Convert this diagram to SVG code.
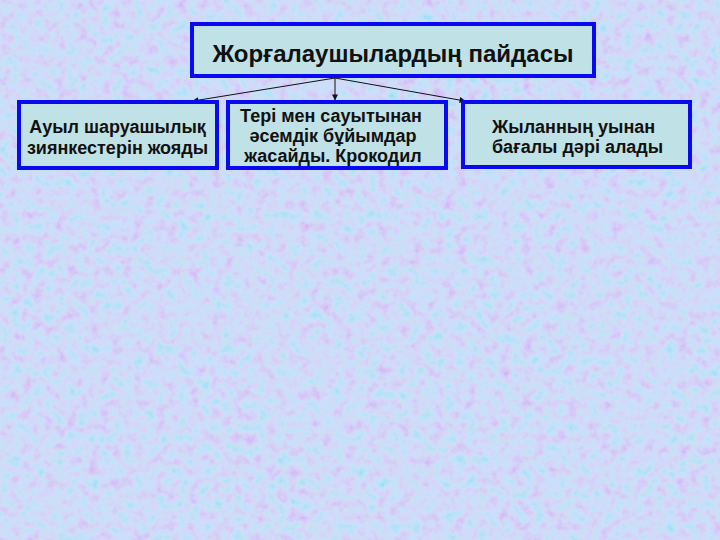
<svg xmlns="http://www.w3.org/2000/svg" width="720" height="540" viewBox="0 0 720 540">
<defs>
<style>
.box{fill:#c0e2e6;stroke:#0a0af0;stroke-width:4}
.t{font-family:"Liberation Sans",Arial,sans-serif;font-weight:bold;fill:#111}
.lnk{stroke:#111;stroke-width:1;fill:none;marker-end:url(#ah)}
</style>
<marker id="ah" viewBox="0 0 10 10" refX="9" refY="5" markerWidth="8" markerHeight="6" markerUnits="userSpaceOnUse" orient="auto">
<path d="M0,0 L10,5 L0,10 z" fill="#111"/>
</marker>
<filter id="tex" x="0" y="0" width="100%" height="100%">
<feTurbulence type="fractalNoise" baseFrequency="0.09" numOctaves="3" seed="7"/>
<feColorMatrix type="matrix" values="2 0 0 0 -0.15  -1.8 0 0 0 1.75  0 0.4 0 0 0.78  0 0 0 0 0.3"/>
</filter>
</defs>
<rect width="720" height="540" fill="#c2d4f6"/>
<rect width="720" height="540" filter="url(#tex)"/>
<g id="connectors">
<line class="lnk" x1="335" y1="78" x2="193" y2="101"/>
<line class="lnk" x1="335" y1="78" x2="335" y2="100"/>
<line class="lnk" x1="335" y1="78" x2="465" y2="101"/>
</g>
<g id="title">
<rect class="box" x="192" y="24" width="402" height="52"/>
<text class="t" x="393" y="62" font-size="24" text-anchor="middle">Жорғалаушылардың пайдасы</text>
</g>
<g id="node1">
<rect class="box" x="19" y="102" width="198" height="66"/>
<text class="t" x="117.5" y="133" font-size="18" text-anchor="middle">Ауыл шаруашылық</text>
<text class="t" x="117.5" y="154" font-size="18" text-anchor="middle">зиянкестерін жояды</text>
</g>
<g id="node2">
<rect class="box" x="228" y="102" width="218" height="66"/>
<text class="t" x="331" y="122" font-size="18" text-anchor="middle">Тері мен сауытынан</text>
<text class="t" x="333" y="142" font-size="18" text-anchor="middle">әсемдік бұйымдар</text>
<text class="t" x="333" y="162" font-size="18" text-anchor="middle">жасайды. Крокодил</text>
</g>
<g id="node3">
<rect class="box" x="463" y="102" width="227" height="65"/>
<text class="t" x="492" y="133" font-size="18">Жыланның уынан</text>
<text class="t" x="492" y="153" font-size="18">бағалы дәрі алады</text>
</g>
</svg>
